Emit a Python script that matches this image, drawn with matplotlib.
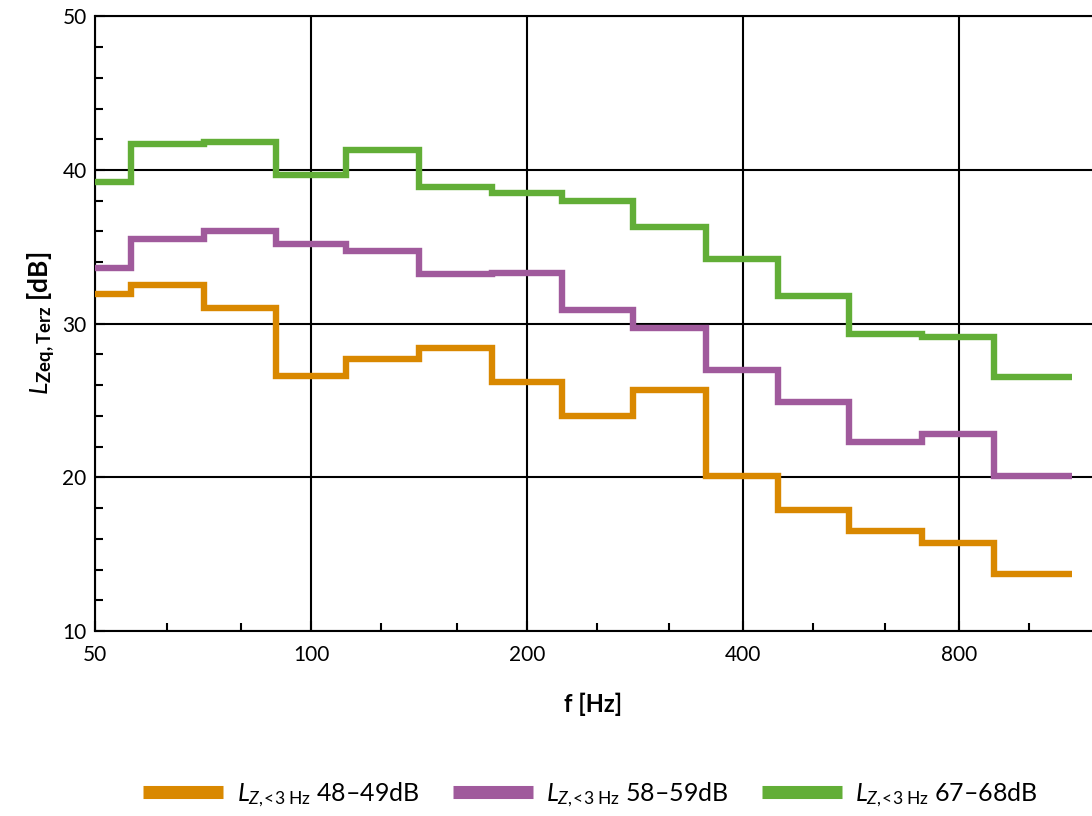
import numpy as np
import matplotlib
matplotlib.use("Agg")
import matplotlib.pyplot as plt
from matplotlib.ticker import FixedLocator, FixedFormatter, NullFormatter
from matplotlib.lines import Line2D

plt.rcParams['font.family'] = ['Lato', 'DejaVu Sans']
plt.rcParams['mathtext.fontset'] = 'custom'
plt.rcParams['mathtext.rm'] = 'Lato'
plt.rcParams['mathtext.it'] = 'Lato:italic'
plt.rcParams['mathtext.bf'] = 'Lato:bold'
plt.rcParams['mathtext.bfit'] = 'Lato:bold:italic'

# third-octave band centres [Hz]
freqs = [50, 63, 80, 100, 125, 160, 200, 250, 315, 400, 500, 630, 800, 1000]
upper_edge = 1150  # end of the last band as drawn

lz_48_49 = [31.9, 32.5, 31.0, 26.6, 27.7, 28.4, 26.2, 24.0, 25.7, 20.1, 17.9, 16.5, 15.7, 13.7]
lz_58_59 = [33.6, 35.5, 36.0, 35.2, 34.7, 33.2, 33.3, 30.9, 29.7, 27.0, 24.9, 22.3, 22.8, 20.1]
lz_67_68 = [39.2, 41.7, 41.8, 39.7, 41.3, 38.9, 38.5, 38.0, 36.3, 34.2, 31.8, 29.3, 29.1, 26.5]

sub = r'$\mathit{L}_{\mathit{Z},\!\!<\!3\;\mathrm{Hz}}$'
labels = [sub + ' 48–49dB', sub + ' 58–59dB', sub + ' 67–68dB']
colors = ['#d98800', '#a05a9c', '#62ae37']

major_x = [50, 100, 200, 400, 800]

f = np.array(freqs, dtype=float)
edges = np.concatenate([[f[0] / 2 ** (1 / 6)], np.sqrt(f[:-1] * f[1:]), [upper_edge]])

fig = plt.figure(figsize=(10.92, 8.16), dpi=100)
ax = fig.add_axes([0.087, 0.2267, 0.913, 0.7533])

for vals, c in zip([lz_48_49, lz_58_59, lz_67_68], colors):
    ax.stairs(vals, edges, baseline=None, color=c, lw=4.6, joinstyle='miter', zorder=3)

ax.set_xscale('log', base=2)
ax.set_xlim(50, 1226)
ax.set_ylim(10, 50)

ax.xaxis.set_major_locator(FixedLocator(major_x))
ax.xaxis.set_major_formatter(FixedFormatter([str(v) for v in major_x]))
ax.xaxis.set_minor_locator(FixedLocator([v for v in freqs if v not in major_x]))
ax.xaxis.set_minor_formatter(NullFormatter())
ax.yaxis.set_major_locator(FixedLocator([10, 20, 30, 40, 50]))
ax.yaxis.set_minor_locator(FixedLocator(np.arange(10, 50, 2)))

ax.tick_params(which='both', direction='in', width=1.5, labelsize=15)
ax.tick_params(which='major', length=7)
ax.tick_params(which='minor', length=6)
ax.tick_params(axis='x', pad=10)
ax.tick_params(axis='y', pad=6)

ax.grid(True, which='major', color='black', lw=1.5)
for s in ['left', 'bottom', 'top']:
    ax.spines[s].set_linewidth(1.5)
ax.spines['right'].set_visible(False)

ax.set_xlabel('f [Hz]', fontsize=17, fontweight='bold', labelpad=20)
ax.set_ylabel(r'$\mathit{L}_{\mathbf{Zeq,Terz}}$ [dB]', fontsize=19, fontweight='bold', labelpad=3)

handles = [Line2D([0], [0], color=c, lw=9.4, solid_capstyle='butt') for c in colors]
fig.legend(handles, labels, loc='center', bbox_to_anchor=(0.541, 0.026), ncol=3,
           frameon=False, fontsize=18, handlelength=3.2, handletextpad=0.55, columnspacing=1.3)

plt.savefig('out.png', dpi=100)
